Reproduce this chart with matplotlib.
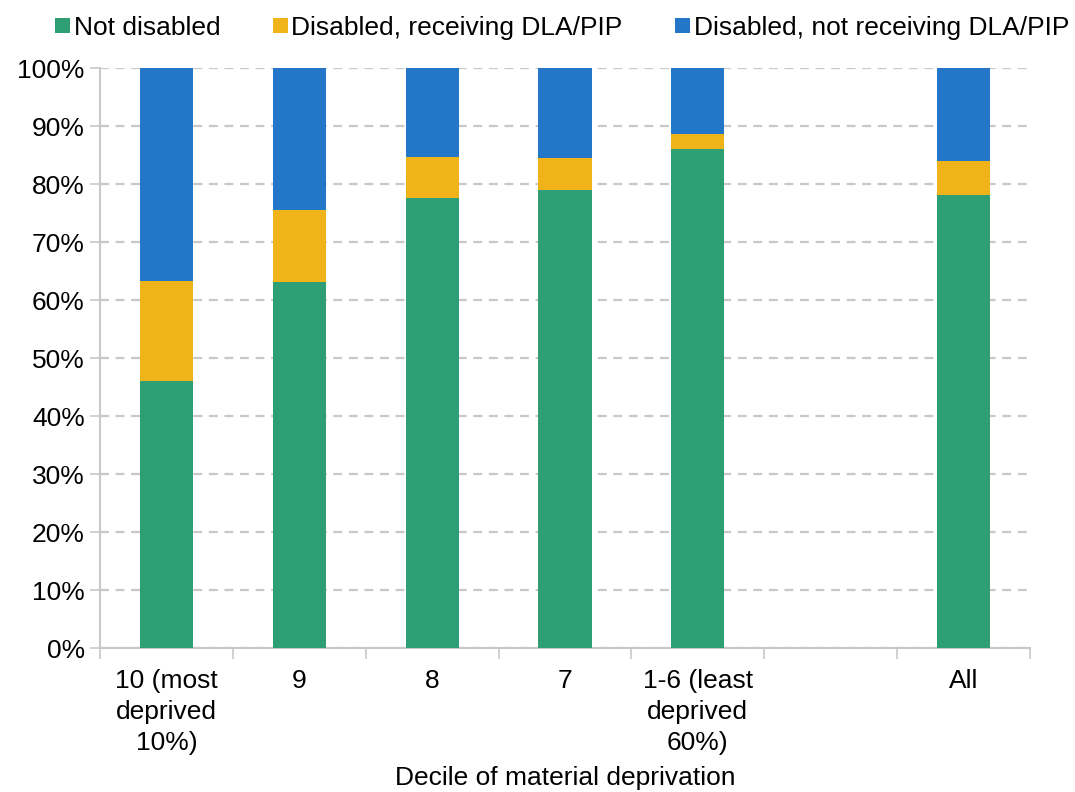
import matplotlib
matplotlib.use("Agg")
import matplotlib.pyplot as plt
import numpy as np

categories = ["10 (most\ndeprived\n10%)", "9", "8", "7", "1-6 (least\ndeprived\n60%)", "", "All"]
not_disabled = [46.0, 63.1, 77.6, 79.0, 86.0, np.nan, 78.1]
disabled_dla = [17.2, 12.4, 7.1, 5.5, 2.6, np.nan, 5.9]
disabled_no = [36.8, 24.5, 15.3, 15.5, 11.4, np.nan, 16.0]
series_names = ["Not disabled", "Disabled, receiving DLA/PIP", "Disabled, not receiving DLA/PIP"]
colors = ["#2e9e74", "#f0b41a", "#2477c8"]
yticks = list(range(0, 101, 10))

FS = 19
plt.rcParams['font.family'] = ['Liberation Sans', 'DejaVu Sans']
fig = plt.figure(figsize=(10.75, 7.92), dpi=100)
ax = fig.add_axes([100/1075, 1-648/792, 930/1075, 580/792])

x = np.arange(len(categories))
a = np.array(not_disabled); b = np.array(disabled_dla); c = np.array(disabled_no)
ax.bar(x, a, width=0.4, color=colors[0], label=series_names[0], zorder=3)
ax.bar(x, b, width=0.4, bottom=a, color=colors[1], label=series_names[1], zorder=3)
ax.bar(x, c, width=0.4, bottom=a+b, color=colors[2], label=series_names[2], zorder=3)

ax.set_xlim(-0.5, len(categories)-0.5)
ax.set_ylim(0, 100)
ax.set_yticks(yticks)
ax.set_yticklabels([f"{v}%" for v in yticks], fontsize=FS)
ax.yaxis.grid(True, linestyle=(0, (4, 3)), color="#c8c8c8", linewidth=1.6, zorder=0)
ax.tick_params(axis='y', length=7, color="#c8c8c8", width=1.2, pad=4)

ax.set_xticks(x)
ax.set_xticklabels(categories, fontsize=FS, linespacing=1.36, va='top')
ax.set_xticks(np.arange(-0.5, len(categories), 1), minor=True)
ax.tick_params(axis='x', which='major', length=0, pad=15)
ax.tick_params(axis='x', which='minor', length=8, color="#c8c8c8", width=1.2)
ax.set_xlabel("Decile of material deprivation", fontsize=FS, labelpad=8)

for s in ["top", "right"]:
    ax.spines[s].set_visible(False)
for s in ["left", "bottom"]:
    ax.spines[s].set_color("#c8c8c8")
    ax.spines[s].set_linewidth(1.5)

leg = fig.legend(loc="upper center", bbox_to_anchor=(0.523, 1.0), ncol=3, frameon=False,
                 fontsize=FS, handlelength=0.55, handleheight=0.55, handletextpad=0.15,
                 columnspacing=2.0, borderaxespad=0.2)

fig.savefig("out.png", dpi=100)
